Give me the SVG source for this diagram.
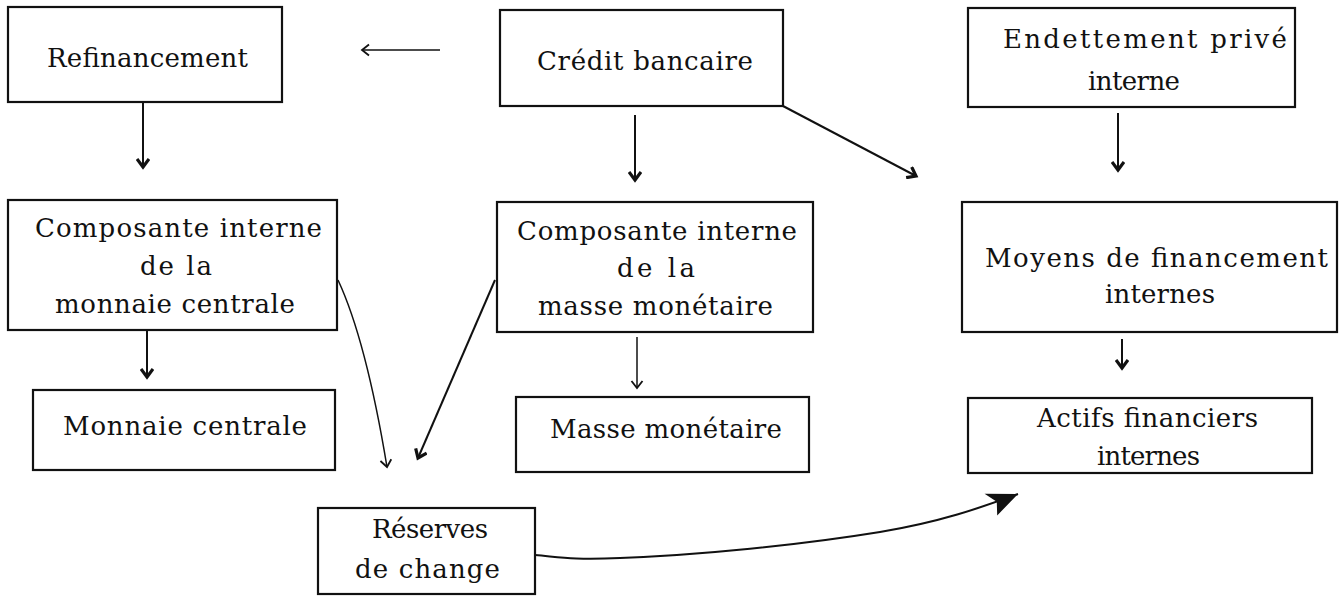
<svg xmlns="http://www.w3.org/2000/svg" width="1341" height="596" viewBox="0 0 1341 596">
<style>
.box{fill:none;stroke:#111;stroke-width:2.2}
.t{font-family:"DejaVu Serif","Liberation Serif",serif;font-size:26px;fill:#111}
.c{fill:none;stroke:#111;stroke-width:2}
.thin{fill:none;stroke:#111;stroke-width:1.5}
</style>
<defs>
<marker id="chev" viewBox="0 0 14 14" refX="11" refY="7" markerWidth="14" markerHeight="14" markerUnits="userSpaceOnUse" orient="auto">
<path d="M3,1 L11,7 L3,13" fill="none" stroke="#111" stroke-width="3.2" stroke-linejoin="miter"/>
</marker>
<marker id="chevthin" viewBox="0 0 14 14" refX="11" refY="7" markerWidth="14" markerHeight="14" markerUnits="userSpaceOnUse" orient="auto">
<path d="M4,1.5 L11,7 L4,12.5" fill="none" stroke="#111" stroke-width="1.8"/>
</marker>
<marker id="fill" viewBox="0 0 30 26" refX="29" refY="13" markerWidth="34" markerHeight="28" markerUnits="userSpaceOnUse" orient="auto">
<path d="M0,2 L29,13 L4,25 L8,13 Z" fill="#111"/>
</marker>
</defs>

<g id="refinancement">
<rect class="box" x="8" y="7" width="274" height="95"/>
<text class="t" x="47" y="67" textLength="201" lengthAdjust="spacing">Refinancement</text>
</g>
<g id="credit-bancaire">
<rect class="box" x="500" y="10" width="283" height="96"/>
<text class="t" x="537" y="70" textLength="216" lengthAdjust="spacing">Crédit bancaire</text>
</g>
<g id="endettement">
<rect class="box" x="968" y="8" width="327" height="99"/>
<text class="t" x="1003" y="48" textLength="284" lengthAdjust="spacing">Endettement privé</text>
<text class="t" x="1088" y="90" textLength="92" lengthAdjust="spacing">interne</text>
</g>
<g id="composante-monnaie">
<rect class="box" x="8" y="200" width="329" height="130"/>
<text class="t" x="35" y="237" textLength="287" lengthAdjust="spacing">Composante interne</text>
<text class="t" x="140" y="275" textLength="72" lengthAdjust="spacing">de la</text>
<text class="t" x="55" y="313" textLength="240" lengthAdjust="spacing">monnaie centrale</text>
</g>
<g id="composante-masse">
<rect class="box" x="497" y="202" width="316" height="130"/>
<text class="t" x="517" y="240" textLength="280" lengthAdjust="spacing">Composante interne</text>
<text class="t" x="617" y="277" textLength="78" lengthAdjust="spacing">de la</text>
<text class="t" x="538" y="315" textLength="235" lengthAdjust="spacing">masse monétaire</text>
</g>
<g id="moyens">
<rect class="box" x="962" y="202" width="375" height="130"/>
<text class="t" x="985" y="267" textLength="343" lengthAdjust="spacing">Moyens de financement</text>
<text class="t" x="1105" y="303" textLength="110" lengthAdjust="spacing">internes</text>
</g>
<g id="monnaie-centrale">
<rect class="box" x="33" y="390" width="302" height="80"/>
<text class="t" x="63" y="435" textLength="244" lengthAdjust="spacing">Monnaie centrale</text>
</g>
<g id="masse-monetaire">
<rect class="box" x="516" y="397" width="293" height="75"/>
<text class="t" x="550" y="438" textLength="232" lengthAdjust="spacing">Masse monétaire</text>
</g>
<g id="actifs">
<rect class="box" x="968" y="398" width="344" height="75"/>
<text class="t" x="1037" y="427" textLength="221" lengthAdjust="spacing">Actifs financiers</text>
<text class="t" x="1097" y="465" textLength="103" lengthAdjust="spacing">internes</text>
</g>
<g id="reserves">
<rect class="box" x="318" y="508" width="217" height="86"/>
<text class="t" x="372" y="538" textLength="116" lengthAdjust="spacing">Réserves</text>
<text class="t" x="355" y="578" textLength="145" lengthAdjust="spacing">de change</text>
</g>

<g id="connectors">
<line class="thin" x1="440" y1="50" x2="362" y2="50" marker-end="url(#chevthin)"/>
<line class="c" x1="143" y1="102" x2="143" y2="167" marker-end="url(#chev)"/>
<line class="c" x1="635" y1="115" x2="635" y2="180" marker-end="url(#chev)"/>
<line class="c" x1="783" y1="106" x2="916" y2="176" marker-end="url(#chev)"/>
<line class="c" x1="1118" y1="113" x2="1118" y2="170" marker-end="url(#chev)"/>
<line class="c" x1="147" y1="330" x2="147" y2="377" marker-end="url(#chev)"/>
<line class="thin" x1="637" y1="337" x2="637" y2="388" marker-end="url(#chevthin)"/>
<line class="c" x1="1122" y1="339" x2="1122" y2="368" marker-end="url(#chev)"/>
<path class="thin" d="M338,280 Q366,340 387,467" marker-end="url(#chevthin)"/>
<line class="c" x1="495" y1="280" x2="418" y2="458" marker-end="url(#chev)"/>
<path class="c" stroke-width="2.6" d="M535,555 C560,557 570,560 620,558 C700,555 800,545 880,532 C940,522 980,508 1018,494" marker-end="url(#fill)"/>
</g>
</svg>
